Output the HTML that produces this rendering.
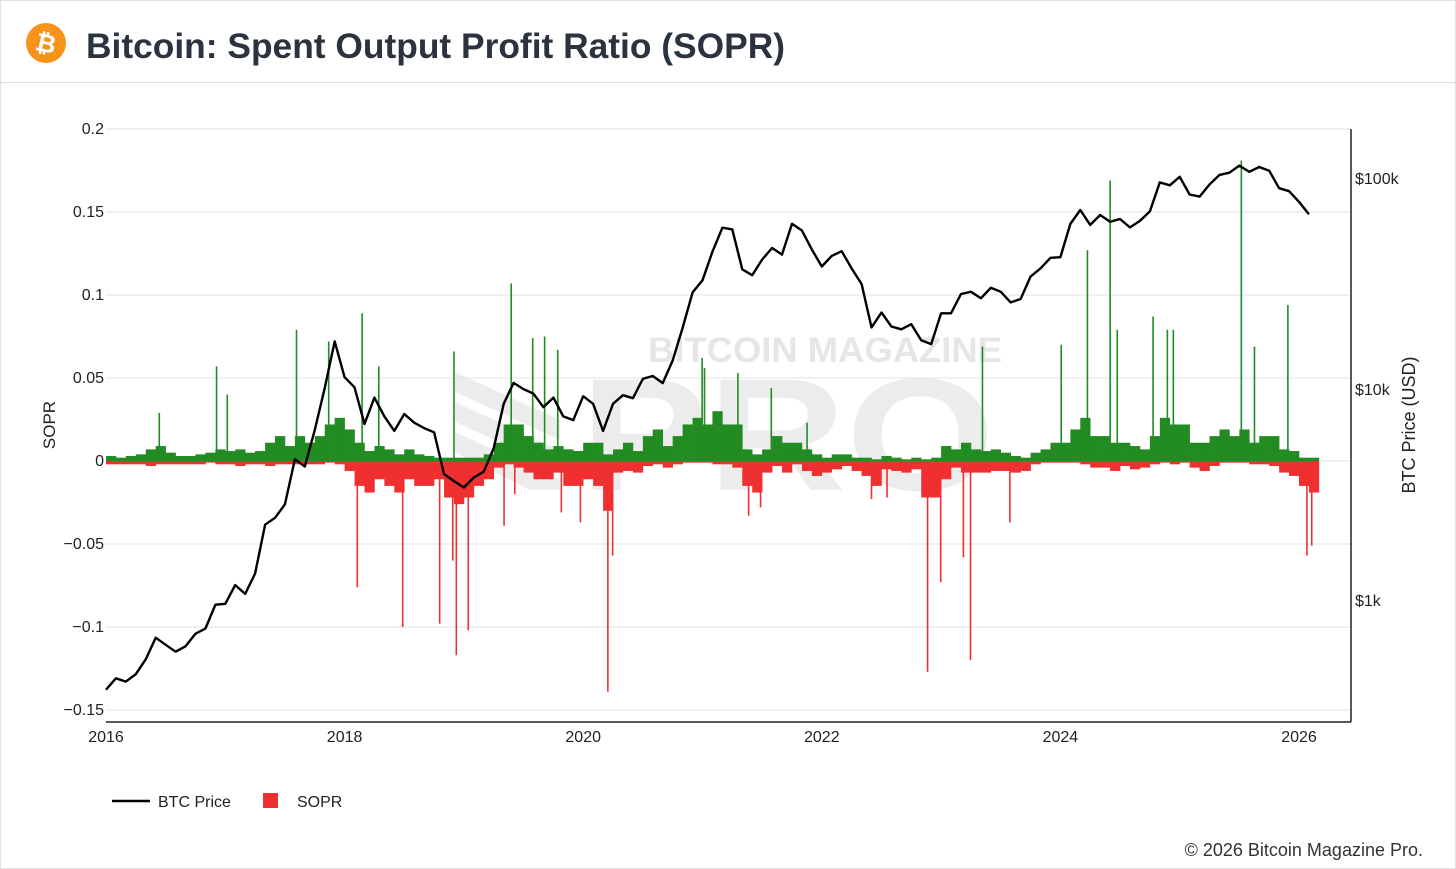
<!DOCTYPE html>
<html><head><meta charset="utf-8"><style>
html,body{margin:0;padding:0;background:#fff;}
svg{display:block;font-family:"Liberation Sans",Arial,sans-serif;}
</style></head><body>
<svg id="chart" width="1456" height="869" viewBox="0 0 1456 869">
<rect x="0.5" y="0.5" width="1455" height="868" fill="#fff" stroke="#e2e2e2"/>
<g>
<circle cx="46" cy="43" r="20" fill="#f7931a"/>
<text x="46" y="52" text-anchor="middle" font-size="25" font-weight="bold" fill="#fff" transform="rotate(12 46 43)">₿</text>
<text x="86" y="58" font-size="35" font-weight="bold" fill="#2b3340" textLength="699" lengthAdjust="spacingAndGlyphs">Bitcoin: Spent Output Profit Ratio (SOPR)</text>
<line x1="0" y1="82.5" x2="1456" y2="82.5" stroke="#dcdcdc"/>
</g>
<g fill="#e6e6e6">
<text x="648" y="362" font-size="35" font-weight="bold" textLength="354" lengthAdjust="spacingAndGlyphs">BITCOIN MAGAZINE</text>
<path d="M455 372 L560 420 L560 440 L455 392 Z M455 402 L560 450 L560 470 L455 422 Z M455 432 L560 480 L560 490 L530 490 L455 452 Z" fill="#ececec"/>
<text x="580" y="490" font-size="160" font-weight="bold" fill="#ececec" textLength="415" lengthAdjust="spacingAndGlyphs">PRO</text>
</g>
<g id="grid"></g>
<g id="bars"></g>
<g id="line"></g>
<g id="axes"></g>
<g>
<g>
<line x1="112" y1="801" x2="150" y2="801" stroke="#000" stroke-width="2.5"/>
<text x="158" y="807" font-size="16" fill="#222">BTC Price</text>
</g>
<g>
<rect x="263" y="793" width="15" height="15" fill="#f03030"/>
<text x="297" y="807" font-size="16" fill="#222">SOPR</text>
</g>
</g>
<text x="1423" y="856" text-anchor="end" font-size="18" fill="#333">© 2026 Bitcoin Magazine Pro.</text>
</svg>
<script>
// ---- data ----
const priceStartYear = 2016;
const btcPrice = [
380,430,415,450,530,670,620,575,610,700,740,960,
970,1190,1080,1350,2300,2480,2870,4700,4340,6470,10200,17000,
11500,10300,6900,9200,7500,6400,7700,7000,6600,6300,4000,3700,
3450,3850,4100,5300,8600,10800,10100,9600,8300,9200,7500,7200,
9350,8600,6400,8600,9450,9140,11300,11650,10780,13800,19700,29000,
33100,45200,58800,57700,37300,35000,41500,47100,43800,61300,57000,46300,
38500,43200,45500,37700,31800,19800,23300,20000,19400,20500,17200,16500,
23100,23100,28500,29200,27200,30500,29200,26000,27000,34500,37700,42300,
42600,61200,71300,60600,67500,62700,64600,59000,63300,70200,96400,93400,
102400,84400,82500,94200,104600,107100,115700,108200,114000,109500,90400,87500,
78000,68000
];
const soprStartYear = 2016;
const soprPosMonthly = [
.003,.002,.003,.004,.007,.009,.005,.003,.003,.004,.005,.007,
.006,.007,.005,.006,.011,.015,.009,.015,.011,.015,.022,.026,
.019,.011,.006,.009,.007,.004,.007,.004,.003,.002,.002,.002,
.002,.002,.004,.011,.022,.022,.015,.011,.007,.009,.007,.006,
.011,.011,.004,.007,.011,.006,.015,.019,.009,.015,.022,.026,
.022,.030,.022,.022,.007,.004,.007,.015,.011,.011,.007,.004,
.002,.004,.004,.002,.002,.001,.003,.002,.001,.002,.001,.002,
.009,.007,.011,.007,.006,.007,.005,.003,.002,.005,.007,.011,
.011,.019,.026,.015,.015,.011,.011,.009,.007,.015,.026,.022,
.022,.011,.011,.015,.019,.015,.019,.011,.015,.015,.007,.006,
.002,.002
];
const soprNegMonthly = [
.002,.002,.002,.002,.003,.002,.002,.002,.002,.002,.001,.002,
.002,.003,.002,.002,.003,.002,.002,.002,.002,.002,.001,.002,
.006,.015,.019,.011,.015,.019,.011,.015,.015,.011,.022,.026,
.022,.015,.011,.004,.002,.004,.007,.011,.011,.007,.015,.015,
.011,.015,.030,.007,.006,.007,.003,.002,.004,.002,.001,.001,
.001,.002,.002,.004,.015,.019,.007,.003,.007,.002,.006,.009,
.007,.005,.003,.006,.009,.015,.005,.006,.007,.005,.022,.022,
.011,.004,.007,.007,.007,.006,.006,.007,.006,.002,.001,.001,
.001,.001,.002,.004,.004,.006,.003,.005,.004,.002,.001,.002,
.001,.004,.006,.003,.001,.001,.001,.002,.002,.003,.007,.009,
.015,.019
];
const spikeDates = [2016.44,2016.92,2017.01,2017.59,2017.86,2018.14,2018.28,2018.91,2019.39,2019.57,2019.67,2019.78,2020.99,2021.01,2021.29,2021.57,2021.87,2023.34,2024.00,2024.22,2024.41,2024.47,2024.77,2024.89,2024.94,2025.51,2025.62,2025.90,
2018.10,2018.48,2018.79,2018.90,2018.93,2019.03,2019.33,2019.42,2019.81,2019.97,2020.20,2020.24,2021.38,2021.48,2022.41,2022.54,2022.88,2022.99,2023.18,2023.24,2023.57,2026.06,2026.10];
const spikeValues = [.029,.057,.040,.079,.072,.089,.057,.066,.107,.074,.075,.067,.062,.056,.053,.044,.023,.069,.070,.127,.169,.079,.087,.079,.079,.181,.069,.094,
-.076,-.100,-.098,-.060,-.117,-.102,-.039,-.020,-.031,-.037,-.139,-.057,-.033,-.028,-.023,-.022,-.127,-.073,-.058,-.120,-.037,-.057,-.051];
const xTicks = [2016,2018,2020,2022,2024,2026];
const yTicks = [0.2,0.15,0.1,0.05,0,-0.05,-0.1,-0.15];
const yTickLabels = ["0.2","0.15","0.1","0.05","0","\u22120.05","\u22120.1","\u22120.15"];
const priceTicks = [1000,10000,100000];
const priceTickLabels = ["$1k","$10k","$100k"];

// ---- scales ----
const NS="http://www.w3.org/2000/svg";
const X0=106, X1=1299, PL=106, PR=1351, PT=129, PB=722;
const xS = t => X0 + (t-2016)*(X1-X0)/10;
const yS = v => 461 - v*1660;
const pS = p => 179 + (5-Math.log10(p))*211;
function mk(tag, attrs, parent){const e=document.createElementNS(NS,tag);for(const k in attrs)e.setAttribute(k,attrs[k]);parent.appendChild(e);return e;}

const grid=document.getElementById('grid');
yTicks.forEach((v,i)=>{
  const l=mk('line',{x1:PL,x2:PR,y1:yS(v),y2:yS(v),stroke:'#e3e3e3','stroke-width':1},grid);
  
  
});

const bars=document.getElementById('bars');
const slot=(X1-X0)/120;
soprPosMonthly.forEach((v,i)=>{
  const t=soprStartYear+i/12;
  const r=mk('rect',{x:xS(t),y:yS(v),width:slot+0.3,height:yS(0)-yS(v),fill:'#228b22'},bars);
  
  
});
soprNegMonthly.forEach((v,i)=>{
  const t=soprStartYear+i/12;
  const r=mk('rect',{x:xS(t),y:yS(0),width:slot+0.3,height:yS(-v)-yS(0),fill:'#f03030'},bars);
  
  
});
spikeDates.forEach((t,i)=>{
  const v=spikeValues[i];
  const y=Math.min(yS(v),yS(0)), h=Math.abs(yS(v)-yS(0));
  const r=mk('rect',{x:xS(t),y:y,width:1.6,height:h,fill:v>=0?'#228b22':'#f03030'},bars);
  
  
});

const lineG=document.getElementById('line');
const d=btcPrice.map((p,i)=>(i?'L':'M')+xS(priceStartYear+i/12).toFixed(1)+','+pS(p).toFixed(1)).join(' ');
const path=mk('path',{d:d,fill:'none',stroke:'#000','stroke-width':2.4,'stroke-linejoin':'round'},lineG);



const axes=document.getElementById('axes');
const xa=mk('line',{x1:PL,x2:PR,y1:PB,y2:PB,stroke:'#222','stroke-width':1.5},axes);


const ra=mk('line',{x1:PR,x2:PR,y1:PT,y2:PB,stroke:'#222','stroke-width':1.5},axes);


xTicks.forEach(t=>{
  const tx=mk('text',{x:xS(t),y:742,'text-anchor':'middle','font-size':16,fill:'#222'},axes);
  tx.textContent=t;
  
  
});
yTicks.forEach((v,i)=>{
  const tx=mk('text',{x:104,y:yS(v)+5,'text-anchor':'end','font-size':16,fill:'#222'},axes);
  tx.textContent=yTickLabels[i];
  
  
});
priceTicks.forEach((p,i)=>{
  const tx=mk('text',{x:1355,y:pS(p)+5,'font-size':16,fill:'#222'},axes);
  tx.textContent=priceTickLabels[i];
  
  
});
const yt=mk('text',{x:55,y:425,'text-anchor':'middle','font-size':17,fill:'#222',transform:'rotate(-90 55 425)'},axes);
yt.textContent='SOPR';


const rt=mk('text',{x:1415,y:425,'text-anchor':'middle','font-size':18,fill:'#222',transform:'rotate(-90 1415 425)'},axes);
rt.textContent='BTC Price (USD)';


</script>
</body></html>
